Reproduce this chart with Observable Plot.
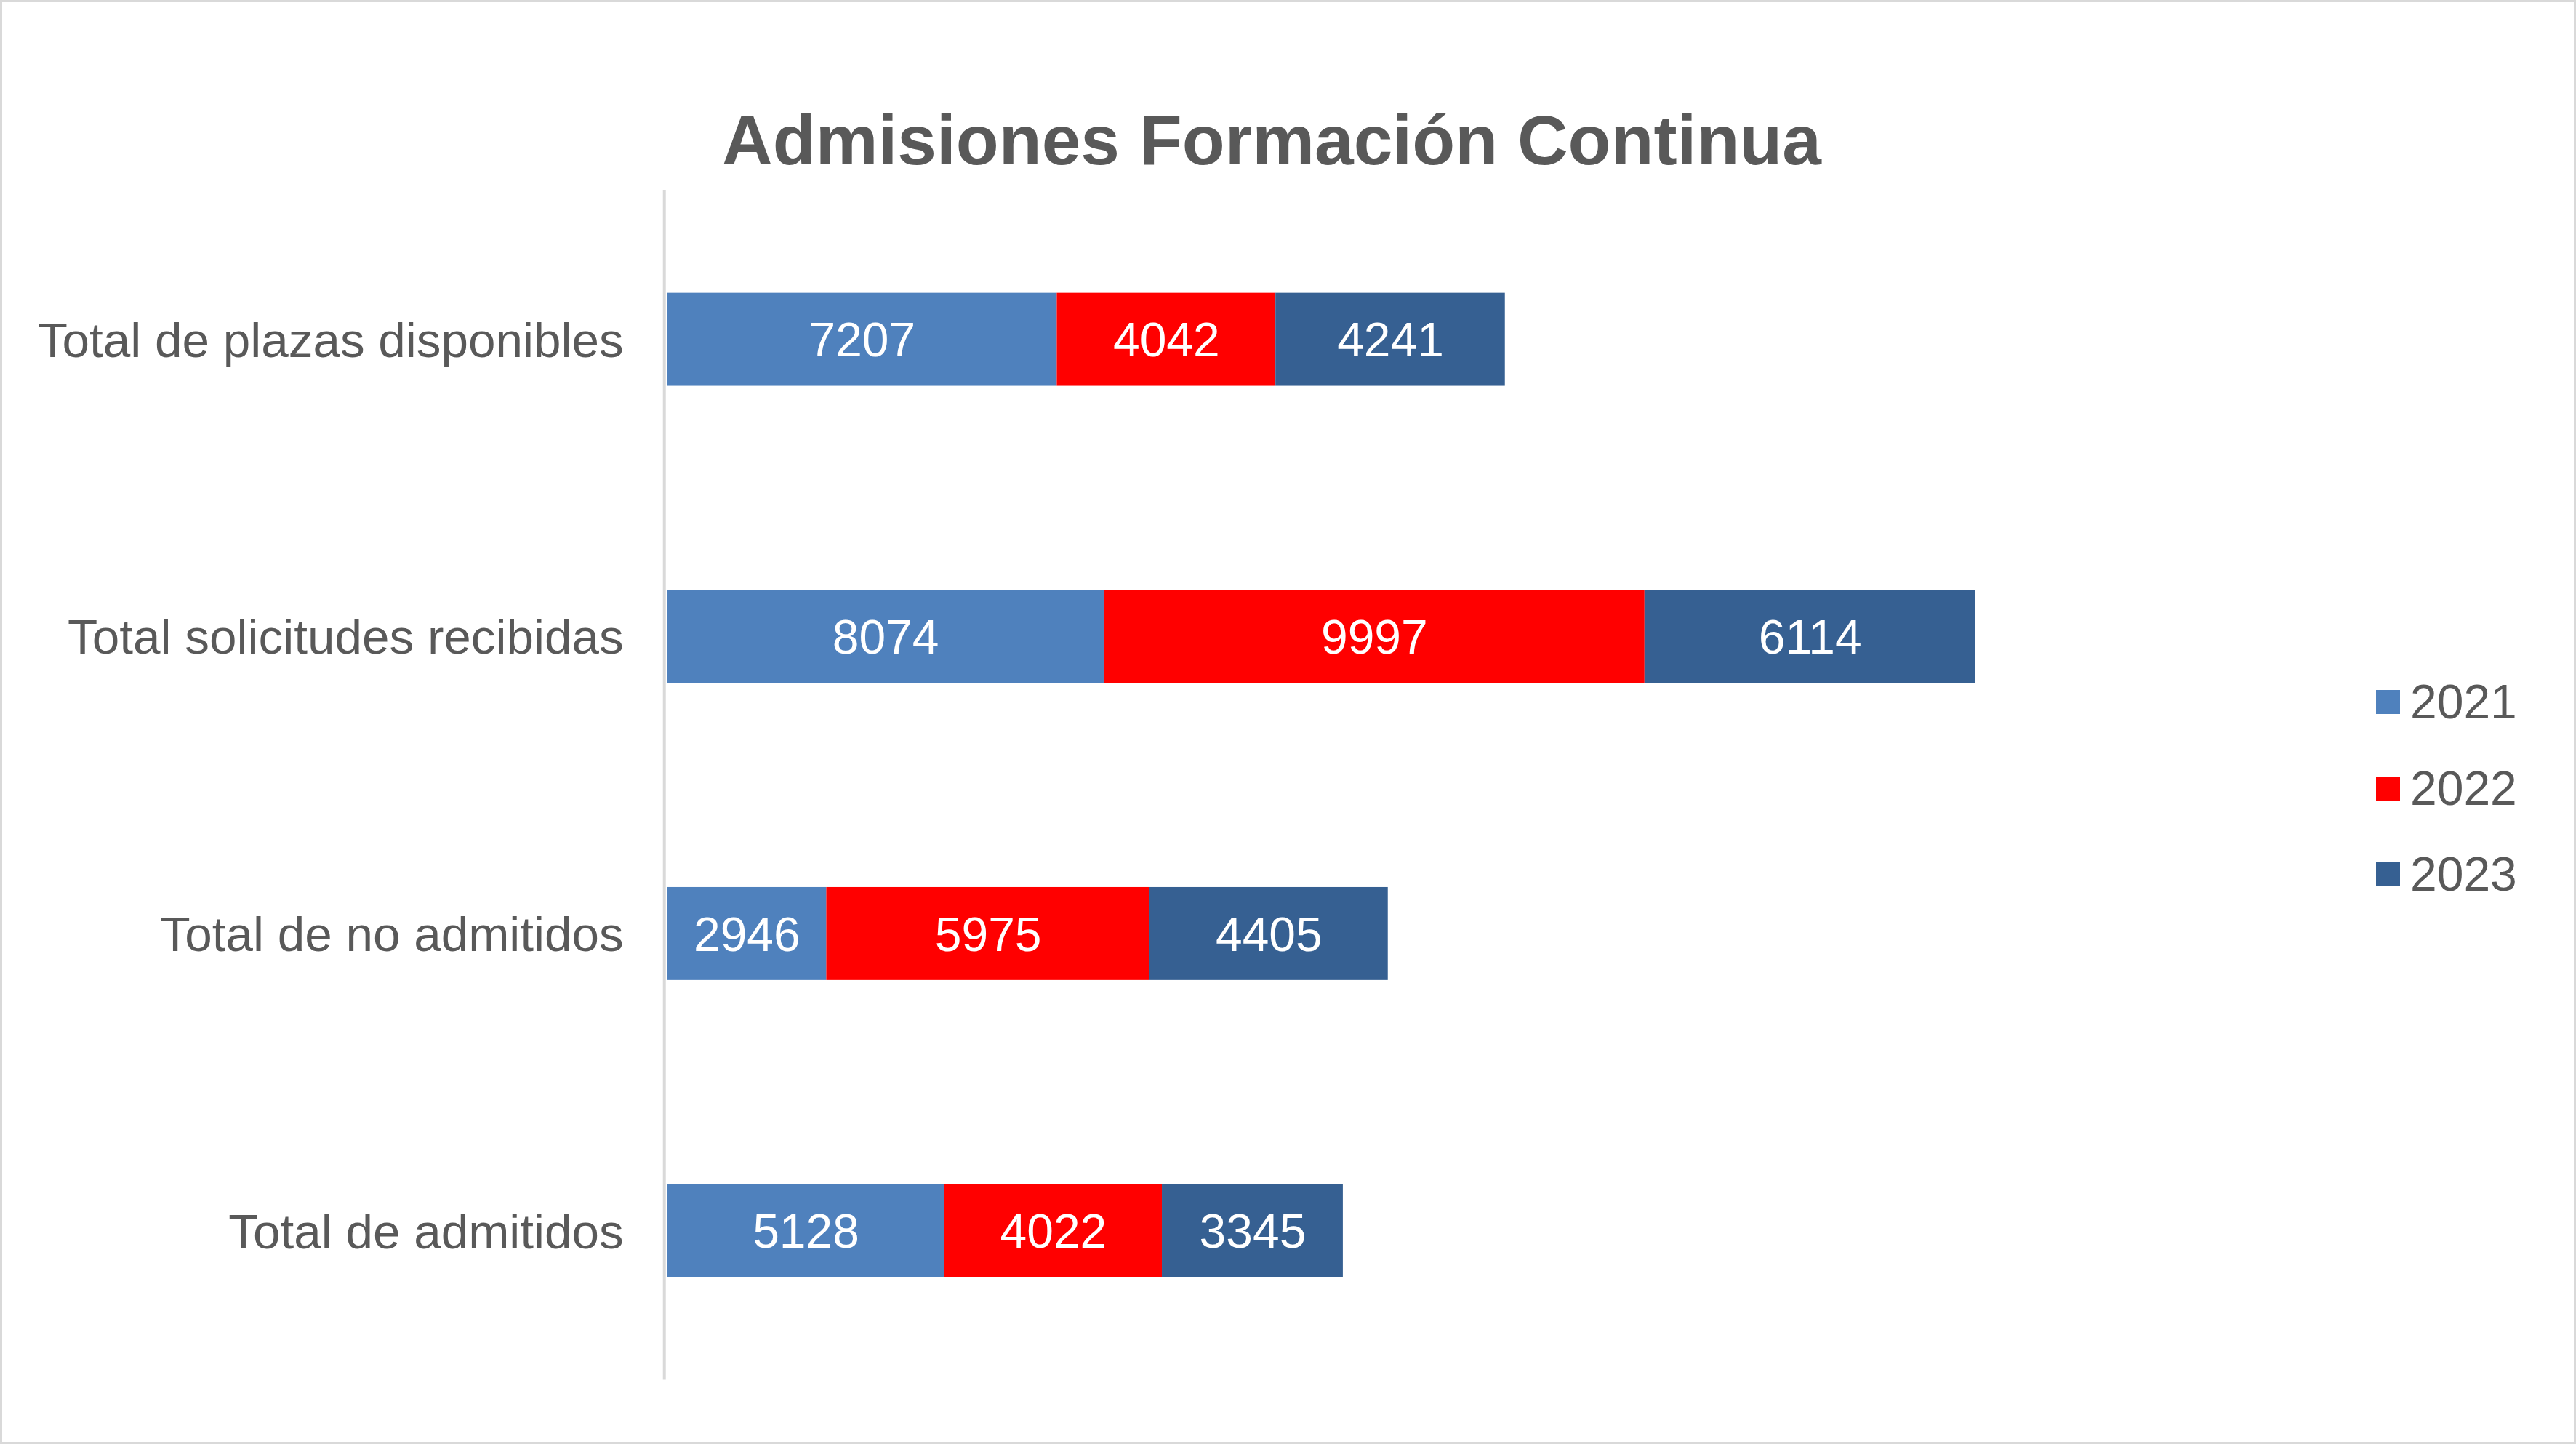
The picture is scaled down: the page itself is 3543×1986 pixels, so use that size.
<!DOCTYPE html>
<html>
<head>
<meta charset="utf-8">
<script src="https://cdn.jsdelivr.net/npm/d3@7"></script>
<script src="https://cdn.jsdelivr.net/npm/@observablehq/plot@0.6"></script>
<style>
  html, body { margin: 0; padding: 0; background: #fff; }
  #wrap { position: relative; width: 3543px; height: 1986px; box-sizing: border-box; border: 3px solid #d9d9d9; background: #fff; overflow: hidden; font-family: "Liberation Sans", Arial, sans-serif; }
  #title { position: absolute; left: 0; top: 140px; width: 3492px; text-align: center; font-size: 96.5px; line-height: 100px; font-weight: bold; color: #595959; }
  #chart { position: absolute; left: -3px; top: -3px; }
  #legend { position: absolute; left: 3265px; top: 0; }
  .item { position: absolute; left: 0; height: 100px; display: flex; align-items: center; white-space: nowrap; font-size: 66px; color: #595959; }
  .sw { width: 33px; height: 33px; margin-right: 14px; }
</style>
</head>
<body>
<div id="wrap">
  <div id="title">Admisiones Formación Continua</div>
  <div id="chart"></div>
  <div id="legend"></div>
</div>
<script>
const categories = ["Total de plazas disponibles", "Total solicitudes recibidas", "Total de no admitidos", "Total de admitidos"];
const years = ["2021", "2022", "2023"];
const values2021 = [7207, 8074, 2946, 5128];
const values2022 = [4042, 9997, 5975, 4022];
const values2023 = [4241, 6114, 4405, 3345];
const colors = ["#4F81BD", "#FF0000", "#366092"];

const series = [values2021, values2022, values2023];
const data = [];
categories.forEach((c, i) => {
  years.forEach((y, j) => data.push({category: c, year: y, value: series[j][i]}));
});
const maxTotal = d3.max(categories, (c, i) => series.reduce((s, v) => s + v[i], 0));

const W = 3543, H = 1986;
const plot = Plot.plot({
  width: W,
  height: H,
  marginLeft: 918,
  marginRight: W - 2719,
  marginTop: 262,
  marginBottom: H - 1899,
  style: {fontFamily: '"Liberation Sans", Arial, sans-serif', background: "transparent"},
  x: {domain: [0, maxTotal], axis: null},
  y: {domain: categories, paddingInner: 0.687, paddingOuter: 0.3435, label: null},
  color: {domain: years, range: colors},
  marks: [
    Plot.axisY({tickSize: 0, tickPadding: 60, fontSize: 67.5, color: "#595959", label: null, dy: 2}),
    Plot.ruleX([0], {stroke: "#d9d9d9", strokeWidth: 4, dx: -4}),
    Plot.barX(data, Plot.stackX({x: "value", y: "category", fill: "year"})),
    Plot.text(data, Plot.stackX({x: "value", y: "category", text: d => String(d.value), fill: "white", fontSize: 66, dy: 2}))
  ]
});
document.getElementById("chart").appendChild(plot);

const legend = document.getElementById("legend");
const legendY = [963, 1082, 1200];
years.forEach((y, j) => {
  const it = document.createElement("div");
  it.className = "item";
  it.style.top = (legendY[j] - 51) + "px";
  const sw = document.createElement("div");
  sw.className = "sw";
  sw.style.background = colors[j];
  const tx = document.createElement("span");
  tx.textContent = y;
  it.appendChild(sw);
  it.appendChild(tx);
  legend.appendChild(it);
});
</script>
</body>
</html>
